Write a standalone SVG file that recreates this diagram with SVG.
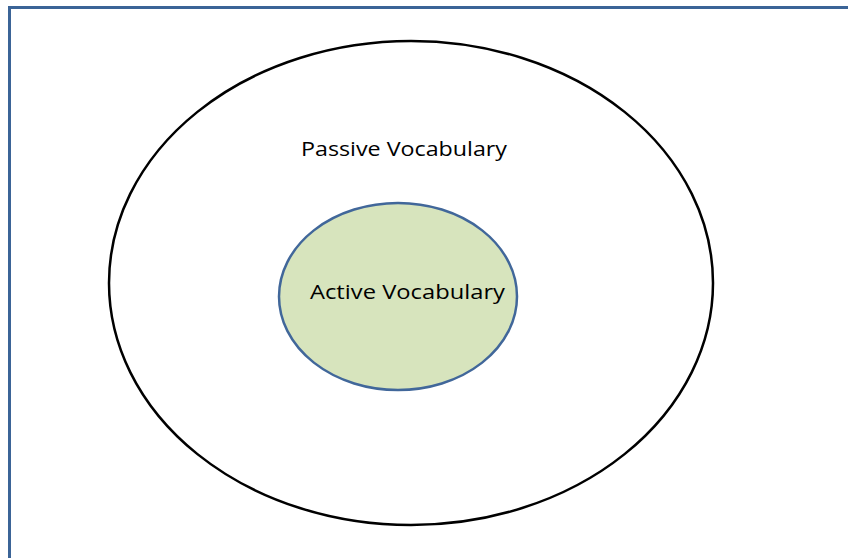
<svg xmlns="http://www.w3.org/2000/svg" width="848" height="558" viewBox="0 0 848 558">
  <style>
    .frame { fill: none; stroke: #3b6497; stroke-width: 3; }
    .outer { fill: #ffffff; stroke: #000000; stroke-width: 2.5; }
    .inner { fill: #d7e4bd; stroke: #41679a; stroke-width: 2.5; }
    .label { font-family: "Open Sans", "Liberation Sans", sans-serif; font-size: 20.5px; fill: #000000; }
  </style>
  <rect width="848" height="558" fill="#ffffff"/>
  <!-- page frame, runs off the right and bottom edges -->
  <rect class="frame" x="9.5" y="7.5" width="860" height="580"/>
  <g id="passive">
    <ellipse class="outer" cx="411" cy="283" rx="302" ry="242"/>
    <text class="label" x="301" y="156" textLength="206" lengthAdjust="spacingAndGlyphs">Passive Vocabulary</text>
  </g>
  <g id="active">
    <ellipse class="inner" cx="398" cy="296.5" rx="119" ry="93.5"/>
    <text class="label" x="310" y="299" textLength="195" lengthAdjust="spacingAndGlyphs">Active Vocabulary</text>
  </g>
  <g id="connectors"/>
</svg>
